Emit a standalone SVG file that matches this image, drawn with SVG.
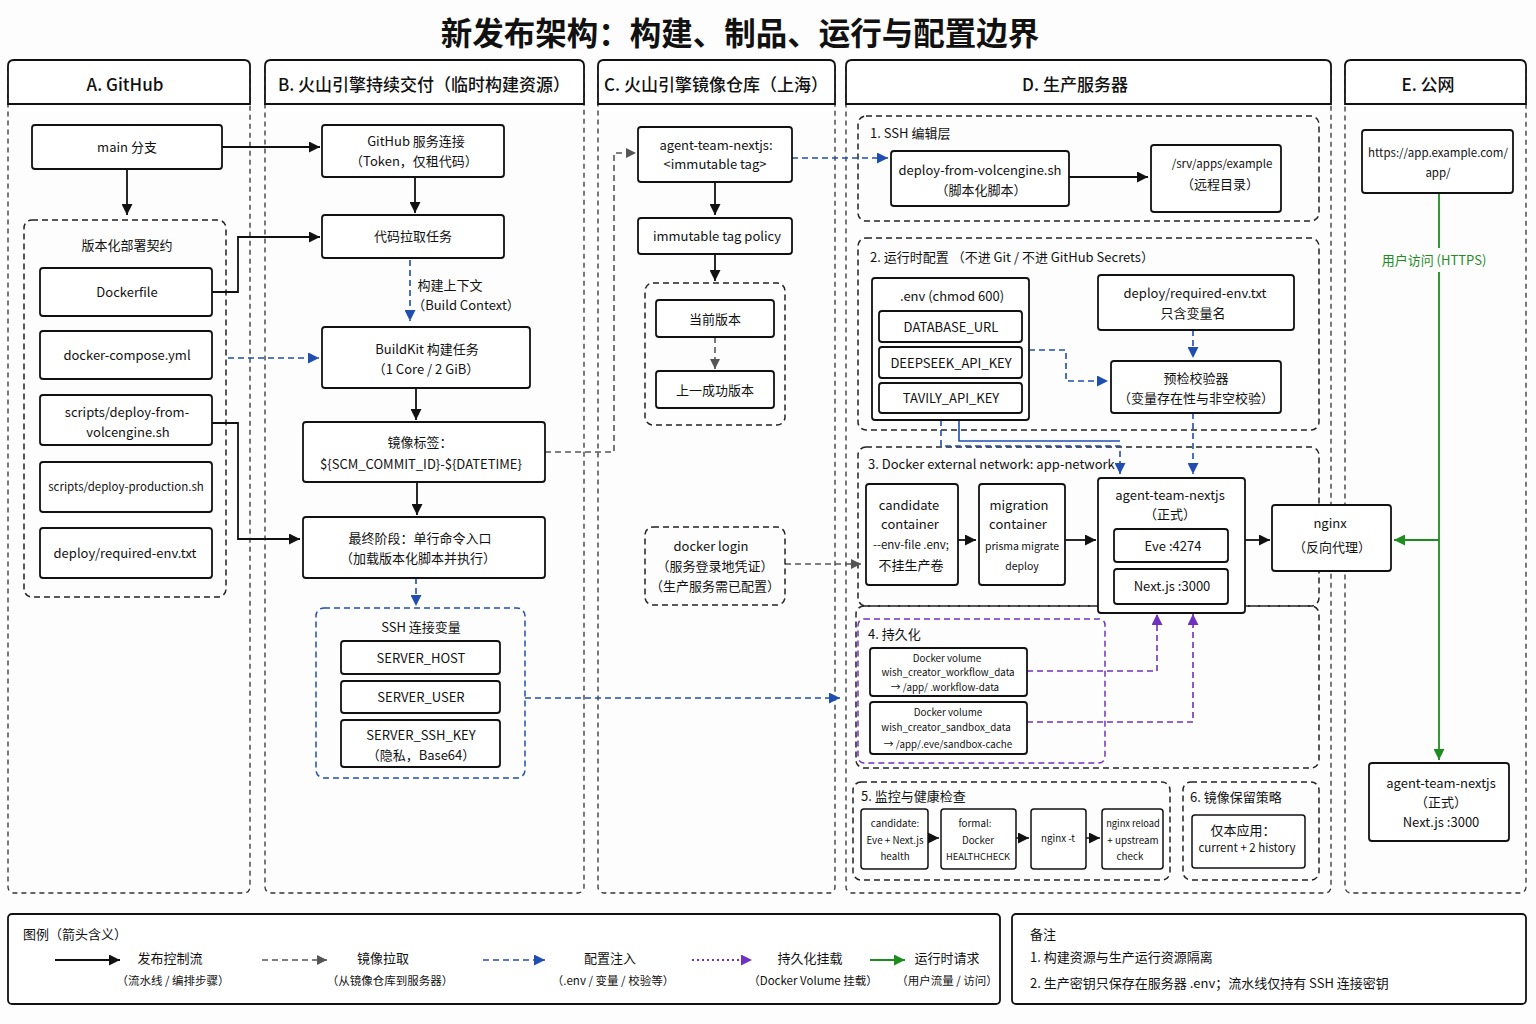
<svg xmlns="http://www.w3.org/2000/svg" width="1536" height="1024" viewBox="0 0 1536 1024">
<defs>
<style>
text{font-family:"Noto Sans CJK SC","Noto Sans",sans-serif;fill:#111;text-anchor:middle;dominant-baseline:central}
.t{font-size:13px}
.ts{font-size:11.5px}
.tx{font-size:10.5px}
.tz{font-size:9.8px}
.tl{text-anchor:start}
.hdr{font-size:17px;font-weight:500}
.sec{font-size:13px;text-anchor:start}
.box{fill:#fff;stroke:#111;stroke-width:1.8}
.col{fill:none;stroke:#333;stroke-width:1.3;stroke-dasharray:5 4}
.colh{fill:#fff;stroke:#111;stroke-width:1.8}
.dg{fill:none;stroke:#222;stroke-width:1.5;stroke-dasharray:6 4}
.bg{fill:none;stroke:#1f4db0;stroke-width:1.5;stroke-dasharray:6 4}
.pg{fill:none;stroke:#7030c0;stroke-width:1.5;stroke-dasharray:6 4}
.ck{fill:none;stroke:#111;stroke-width:1.8}
.cg{fill:none;stroke:#555;stroke-width:1.6;stroke-dasharray:6 4}
.cb{fill:none;stroke:#1f4db0;stroke-width:1.6;stroke-dasharray:6 4}
.cp{fill:none;stroke:#7030c0;stroke-width:1.6;stroke-dasharray:6 4}
.cpd{fill:none;stroke:#7030c0;stroke-width:1.8;stroke-dasharray:2 3}
.cgr{fill:none;stroke:#1e8c1e;stroke-width:1.8}
</style>
<marker id="ak" viewBox="0 0 10 10" refX="10" refY="5" markerWidth="11" markerHeight="11" markerUnits="userSpaceOnUse" orient="auto"><path d="M0,0 L10,5 L0,10 z" fill="#111"/></marker>
<marker id="ag" viewBox="0 0 10 10" refX="10" refY="5" markerWidth="10" markerHeight="10" markerUnits="userSpaceOnUse" orient="auto"><path d="M0,0 L10,5 L0,10 z" fill="#555"/></marker>
<marker id="ab" viewBox="0 0 10 10" refX="10" refY="5" markerWidth="11" markerHeight="11" markerUnits="userSpaceOnUse" orient="auto"><path d="M0,0 L10,5 L0,10 z" fill="#1f4db0"/></marker>
<marker id="ap" viewBox="0 0 10 10" refX="10" refY="5" markerWidth="11" markerHeight="11" markerUnits="userSpaceOnUse" orient="auto"><path d="M0,0 L10,5 L0,10 z" fill="#7030c0"/></marker>
<marker id="agr" viewBox="0 0 10 10" refX="10" refY="5" markerWidth="11" markerHeight="11" markerUnits="userSpaceOnUse" orient="auto"><path d="M0,0 L10,5 L0,10 z" fill="#1e8c1e"/></marker>
</defs>
<rect x="0" y="0" width="1536" height="1024" fill="#fdfdfd"/>
<text x="740" y="31" style="font-size:31.5px;font-weight:600">新发布架构：构建、制品、运行与配置边界</text>

<g id="columns">
<g id="colA"><rect class="col" x="8" y="60" width="242" height="833" rx="6"/><path class="colh" d="M8,104 V66 Q8,60 14,60 H244 Q250,60 250,66 V104 Z"/><text class="hdr" x="125" y="83">A. GitHub</text></g>
<g id="colB"><rect class="col" x="265" y="60" width="319" height="833" rx="6"/><path class="colh" d="M265,104 V66 Q265,60 271,60 H578 Q584,60 584,66 V104 Z"/><text class="hdr" x="424" y="83">B. 火山引擎持续交付（临时构建资源）</text></g>
<g id="colC"><rect class="col" x="598" y="60" width="237" height="833" rx="6"/><path class="colh" d="M598,104 V66 Q598,60 604,60 H829 Q835,60 835,66 V104 Z"/><text class="hdr" x="716" y="83">C. 火山引擎镜像仓库（上海）</text></g>
<g id="colD"><rect class="col" x="846" y="60" width="485" height="833" rx="6"/><path class="colh" d="M846,104 V66 Q846,60 852,60 H1325 Q1331,60 1331,66 V104 Z"/><text class="hdr" x="1075" y="83">D. 生产服务器</text></g>
<g id="colE"><rect class="col" x="1345" y="60" width="181" height="833" rx="6"/><path class="colh" d="M1345,104 V66 Q1345,60 1351,60 H1520 Q1526,60 1526,66 V104 Z"/><text class="hdr" x="1428" y="83">E. 公网</text></g>
</g>

<g id="groups">
<rect class="dg" x="24" y="220" width="202" height="377" rx="8"/>
<text class="t" x="127" y="244">版本化部署契约</text>
<rect class="bg" x="316" y="608" width="209" height="170" rx="8"/>
<text class="t" x="421" y="626">SSH 连接变量</text>
<rect class="dg" x="645" y="283" width="140" height="142" rx="8"/>
<rect class="dg" x="858" y="116" width="461" height="105" rx="8"/>
<text class="sec" x="870" y="132">1. SSH 编辑层</text>
<rect class="dg" x="858" y="238" width="461" height="192" rx="8"/>
<text class="sec" x="870" y="256">2. 运行时配置 （不进 Git / 不进 GitHub Secrets）</text>
<rect class="dg" x="858" y="447" width="461" height="159" rx="8"/>
<text class="sec" x="868" y="463">3. Docker external network: app-network</text>
<rect class="dg" x="856" y="606" width="463" height="162" rx="8"/>
<rect class="pg" x="858" y="619" width="247" height="144" rx="6"/>
<text class="sec" x="868" y="633">4. 持久化</text>
<rect class="dg" x="853" y="782" width="317" height="98" rx="8"/>
<text class="sec" x="861" y="795">5. 监控与健康检查</text>
<rect class="dg" x="1183" y="782" width="136" height="98" rx="8"/>
<text class="sec" x="1190" y="796">6. 镜像保留策略</text>
</g>

<g id="connectors">
<path class="ck" d="M222,147 H320" marker-end="url(#ak)"/>
<path class="ck" d="M127,169 V215" marker-end="url(#ak)"/>
<path class="ck" d="M212,292 H238 V237 H320" marker-end="url(#ak)"/>
<path class="cb" d="M228,358 H319" marker-end="url(#ab)"/>
<path class="ck" d="M212,423 H238 V539 H300" marker-end="url(#ak)"/>
<path class="ck" d="M415,177 V213" marker-end="url(#ak)"/>
<path class="cb" d="M410,260 V321" marker-end="url(#ab)"/>
<path class="ck" d="M416,388 V420" marker-end="url(#ak)"/>
<path class="ck" d="M417,482 V515" marker-end="url(#ak)"/>
<path class="cb" d="M416,578 V606" marker-end="url(#ab)"/>
<path class="cb" d="M525,698 H840" marker-end="url(#ab)"/>
<path class="cg" d="M545,452 H614 V153 H636" marker-end="url(#ag)"/>
<path class="ck" d="M715,182 V215" marker-end="url(#ak)"/>
<path class="ck" d="M715,254 V281" marker-end="url(#ak)"/>
<path class="cg" d="M715,337 V369" marker-end="url(#ag)"/>
<path class="cb" d="M792,158 H888" marker-end="url(#ab)"/>
<path class="cg" d="M785,564 H861" marker-end="url(#ag)"/>
<path class="ck" d="M1069,177 H1148" marker-end="url(#ak)"/>
<path class="cb" d="M1193,330 V358" marker-end="url(#ab)"/>
<path class="cb" d="M1029,350 H1066 V381 H1108" marker-end="url(#ab)"/>
<path class="cb" d="M941,420 V446 H1120 V474" marker-end="url(#ab)"/>
<path class="cb" d="M959,420 V441 H1120" style="stroke-dasharray:none"/>
<path class="cb" d="M1193,413 V474" marker-end="url(#ab)"/>
<path class="ck" d="M958,540 H976" marker-end="url(#ak)"/>
<path class="ck" d="M1065,540 H1096" marker-end="url(#ak)"/>
<path class="ck" d="M1245,540 H1270" marker-end="url(#ak)"/>
<path class="cp" d="M1027,671 H1157 V614" marker-end="url(#ap)"/>
<path class="cp" d="M1027,722 H1193 V614" marker-end="url(#ap)"/>
<path class="ck" d="M928,838 H939" style="stroke-width:1.5" marker-end="url(#ak)"/>
<path class="ck" d="M1016,838 H1029" style="stroke-width:1.5" marker-end="url(#ak)"/>
<path class="ck" d="M1086,838 H1100" style="stroke-width:1.5" marker-end="url(#ak)"/>
<path class="cgr" d="M1439,193 V248"/>
<path class="cgr" d="M1439,272 V760" marker-end="url(#agr)"/>
<path class="cgr" d="M1439,540 H1394" marker-end="url(#agr)"/>
<text x="1434" y="259" style="font-size:13px;fill:#1e8c1e">用户访问 (HTTPS)</text>
<text class="t" x="450" y="284">构建上下文</text>
<text class="t" x="466" y="304">（Build Context）</text>
</g>

<g id="nodes">
<g id="main"><rect class="box" x="32" y="125" width="190" height="44" rx="3"/><text class="t" x="127" y="146">main 分支</text></g>
<g id="dockerfile"><rect class="box" x="40" y="268" width="172" height="48" rx="3"/><text class="t" x="127" y="291">Dockerfile</text></g>
<g id="compose"><rect class="box" x="40" y="331" width="172" height="48" rx="3"/><text class="t" x="127" y="354">docker-compose.yml</text></g>
<g id="deployvolc"><rect class="box" x="40" y="395" width="172" height="50" rx="3"/><text class="t" x="127" y="411">scripts/deploy-from-</text><text class="t" x="128" y="431">volcengine.sh</text></g>
<g id="deployprod"><rect class="box" x="40" y="462" width="172" height="50" rx="3"/><text class="ts" x="126" y="486">scripts/deploy-production.sh</text></g>
<g id="reqenvA"><rect class="box" x="40" y="528" width="172" height="50" rx="3"/><text class="t" x="125" y="552">deploy/required-env.txt</text></g>

<g id="ghconn"><rect class="box" x="322" y="125" width="182" height="52" rx="3"/><text class="t" x="416" y="140">GitHub 服务连接</text><text class="t" x="414" y="160">（Token，仅租代码）</text></g>
<g id="pull"><rect class="box" x="322" y="215" width="182" height="43" rx="3"/><text class="t" x="413" y="235">代码拉取任务</text></g>
<g id="buildkit"><rect class="box" x="322" y="327" width="208" height="61" rx="3"/><text class="t" x="427" y="348">BuildKit 构建任务</text><text class="t" x="426" y="368">（1 Core / 2 GiB）</text></g>
<g id="tag"><rect class="box" x="303" y="422" width="242" height="60" rx="3"/><text class="t" x="420" y="441">镜像标签：</text><text class="t" x="421" y="463">${SCM_COMMIT_ID}-${DATETIME}</text></g>
<g id="final"><rect class="box" x="303" y="517" width="242" height="61" rx="3"/><text class="t" x="420" y="537">最终阶段：单行命令入口</text><text class="t" x="418" y="557">（加载版本化脚本并执行）</text></g>
<g id="host"><rect class="box" x="341" y="641" width="159" height="33" rx="3"/><text class="t" x="421" y="657">SERVER_HOST</text></g>
<g id="user"><rect class="box" x="341" y="681" width="159" height="32" rx="3"/><text class="t" x="421" y="696">SERVER_USER</text></g>
<g id="sshkey"><rect class="box" x="341" y="720" width="159" height="47" rx="3"/><text class="t" x="421" y="734">SERVER_SSH_KEY</text><text class="t" x="421" y="754">（隐私，Base64）</text></g>

<g id="image"><rect class="box" x="638" y="127" width="154" height="55" rx="3"/><text class="t" x="716" y="144">agent-team-nextjs:</text><text class="t" x="715" y="163">&lt;immutable tag&gt;</text></g>
<g id="policy"><rect class="box" x="638" y="218" width="154" height="36" rx="3"/><text class="t" x="717" y="235">immutable tag policy</text></g>
<g id="current"><rect class="box" x="656" y="300" width="118" height="37" rx="3"/><text class="t" x="715" y="318">当前版本</text></g>
<g id="prev"><rect class="box" x="656" y="371" width="118" height="37" rx="3"/><text class="t" x="715" y="389">上一成功版本</text></g>
<g id="login"><rect class="dg" x="645" y="527" width="140" height="78" rx="8"/><text class="t" x="711" y="545">docker login</text><text class="t" x="715" y="565">（服务登录地凭证）</text><text class="t" x="715" y="585">（生产服务需已配置）</text></g>

<g id="deployscript"><rect class="box" x="891" y="151" width="178" height="55" rx="3"/><text class="t" x="980" y="169">deploy-from-volcengine.sh</text><text class="t" x="981" y="189">（脚本化脚本）</text></g>
<g id="srv"><rect class="box" x="1151" y="145" width="130" height="67" rx="3"/><text class="ts" x="1222" y="163">/srv/apps/example</text><text class="t" x="1220" y="183">（远程目录）</text></g>
<g id="envfile"><rect class="box" x="872" y="278" width="157" height="142" rx="3"/><text class="t" x="952" y="295">.env (chmod 600)</text>
<rect class="box" x="879" y="311" width="143" height="31" rx="3"/><text class="t" x="951" y="326">DATABASE_URL</text>
<rect class="box" x="879" y="347" width="143" height="31" rx="3"/><text class="t" x="951" y="362">DEEPSEEK_API_KEY</text>
<rect class="box" x="879" y="383" width="143" height="30" rx="3"/><text class="t" x="951" y="397">TAVILY_API_KEY</text></g>
<g id="reqenvD"><rect class="box" x="1098" y="275" width="196" height="55" rx="3"/><text class="t" x="1195" y="292">deploy/required-env.txt</text><text class="t" x="1193" y="312">只含变量名</text></g>
<g id="precheck"><rect class="box" x="1111" y="361" width="170" height="52" rx="3"/><text class="t" x="1196" y="377">预检校验器</text><text class="t" x="1196" y="397">（变量存在性与非空校验）</text></g>
<g id="candidate"><rect class="box" x="866" y="484" width="92" height="101" rx="3"/><text class="t" x="909" y="504">candidate</text><text class="t" x="910" y="523">container</text><text class="ts" x="911" y="544">--env-file .env;</text><text class="t" x="911" y="564">不挂生产卷</text></g>
<g id="migration"><rect class="box" x="979" y="484" width="86" height="101" rx="3"/><text class="t" x="1019" y="504">migration</text><text class="t" x="1018" y="523">container</text><text class="tx" x="1022" y="545">prisma migrate</text><text class="tx" x="1022" y="565">deploy</text></g>
<g id="formal"><rect class="box" x="1098" y="478" width="147" height="135" rx="3"/><text class="t" x="1170" y="494">agent-team-nextjs</text><text class="t" x="1170" y="513">（正式）</text>
<rect class="box" x="1114" y="529" width="114" height="33" rx="3"/><text class="t" x="1173" y="545">Eve :4274</text>
<rect class="box" x="1114" y="569" width="114" height="35" rx="3"/><text class="t" x="1172" y="585">Next.js :3000</text></g>
<g id="nginx"><rect class="box" x="1272" y="505" width="119" height="66" rx="3"/><text class="t" x="1330" y="522">nginx</text><text class="t" x="1332" y="546">（反向代理）</text></g>
<g id="vol1"><rect class="box" x="870" y="648" width="157" height="48" rx="3"/><text class="tz" x="947" y="658">Docker volume</text><text class="tz" x="948" y="672">wish_creator_workflow_data</text><text class="tz" x="945" y="687">→ /app/ .workflow-data</text></g>
<g id="vol2"><rect class="box" x="870" y="702" width="157" height="52" rx="3"/><text class="tz" x="948" y="712">Docker volume</text><text class="tz" x="946" y="727">wish_creator_sandbox_data</text><text class="tz" x="948" y="744">→ /app/.eve/sandbox-cache</text></g>
<g id="hc1"><rect class="box" x="861" y="809" width="67" height="60" rx="3" style="stroke-width:1.5"/><text class="tz" x="895" y="823">candidate:</text><text class="tz" x="895" y="840">Eve + Next.js</text><text class="tz" x="895" y="856">health</text></g>
<g id="hc2"><rect class="box" x="941" y="809" width="75" height="60" rx="3" style="stroke-width:1.5"/><text class="tz" x="975" y="823">formal:</text><text class="tz" x="978" y="840">Docker</text><text class="tz" x="978" y="856" style="font-size:9.3px">HEALTHCHECK</text></g>
<g id="hc3"><rect class="box" x="1031" y="809" width="55" height="60" rx="3" style="stroke-width:1.5"/><text class="tz" x="1058" y="838">nginx -t</text></g>
<g id="hc4"><rect class="box" x="1102" y="809" width="61" height="60" rx="3" style="stroke-width:1.5"/><text class="tz" x="1133" y="823" style="font-size:9.3px">nginx reload</text><text class="tz" x="1133" y="840">+ upstream</text><text class="tz" x="1130" y="856">check</text></g>
<g id="retention"><rect class="box" x="1192" y="815" width="113" height="53" rx="3" style="stroke-width:1.5"/><text class="t" x="1243" y="829">仅本应用：</text><text class="ts" x="1247" y="847">current + 2 history</text></g>
<g id="url"><rect class="box" x="1362" y="130" width="151" height="63" rx="3"/><text class="ts" x="1438" y="152">https://app.example.com/</text><text class="ts" x="1438" y="172">app/</text></g>
<g id="publicapp"><rect class="box" x="1369" y="763" width="140" height="78" rx="3"/><text class="t" x="1441" y="782">agent-team-nextjs</text><text class="t" x="1441" y="801">（正式）</text><text class="t" x="1441" y="821">Next.js :3000</text></g>
</g>

<g id="legend">
<rect class="box" x="8" y="914" width="992" height="90" rx="4"/>
<text class="t tl" x="23" y="933">图例（箭头含义）</text>
<path class="ck" d="M55,960 H120" marker-end="url(#ak)"/>
<text class="t" x="170" y="957">发布控制流</text><text class="ts" x="173" y="980">（流水线 / 编排步骤）</text>
<path class="cg" d="M262,960 H327" marker-end="url(#ag)"/>
<text class="t" x="383" y="957">镜像拉取</text><text class="ts" x="390" y="980">（从镜像仓库到服务器）</text>
<path class="cb" d="M483,960 H545" marker-end="url(#ab)"/>
<text class="t" x="610" y="957">配置注入</text><text class="ts" x="613" y="980">（.env / 变量 / 校验等）</text>
<path class="cpd" d="M692,960 H752" marker-end="url(#ap)"/>
<text class="t" x="810" y="957">持久化挂载</text><text class="ts" x="813" y="980">（Docker Volume 挂载）</text>
<path class="cgr" d="M870,960 H905" marker-end="url(#agr)"/>
<text class="t" x="947" y="957">运行时请求</text><text class="ts" x="947" y="980">（用户流量 / 访问）</text>
</g>

<g id="notes">
<rect class="box" x="1012" y="914" width="514" height="90" rx="4"/>
<text class="t tl" x="1030" y="933">备注</text>
<text class="t tl" x="1030" y="956">1.  构建资源与生产运行资源隔离</text>
<text class="t tl" x="1030" y="982">2.  生产密钥只保存在服务器 .env；流水线仅持有 SSH 连接密钥</text>
</g>
</svg>
